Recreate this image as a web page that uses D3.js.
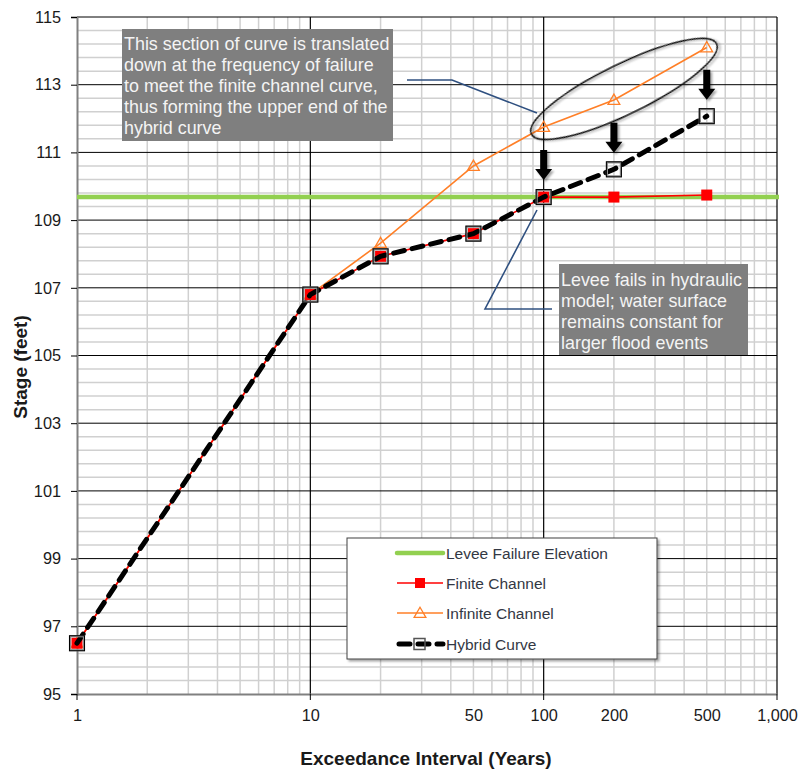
<!DOCTYPE html>
<html>
<head>
<meta charset="utf-8">
<script src="https://cdn.jsdelivr.net/npm/d3@7"></script>
<style>
  html, body { margin: 0; padding: 0; background: #fff; }
  svg { display: block; font-family: Arial, "Liberation Sans", sans-serif; }
</style>
</head>
<body>
<svg id="chart" width="801" height="774"></svg>
<script>
// Stage-frequency data (exceedance interval in years, stage in feet)
const intervals = [1, 10, 20, 50, 100, 200, 500];
const finiteChannel = [96.5, 106.8, 107.93, 108.6, 109.68, 109.68, 109.74];
const infiniteChannel = [96.5, 106.8, 108.32, 110.6, 111.75, 112.55, 114.1];
const hybridCurve = [96.5, 106.8, 107.93, 108.6, 109.68, 110.5, 112.07];
const leveeElevation = 109.68;
const xTickValues = [1, 10, 50, 100, 200, 500, 1000];
const yTickValues = [95, 97, 99, 101, 103, 105, 107, 109, 111, 113, 115];
const shiftedIntervals = [100, 200, 500];
const legendLabels = ["Levee Failure Elevation", "Finite Channel", "Infinite Channel", "Hybrid Curve"];
const noteUpper = ["This section of curve is translated", "down at the frequency of failure",
  "to meet the finite channel curve,", "thus forming the upper end of the", "hybrid curve"];
const noteLower = ["Levee fails in hydraulic", "model; water surface",
  "remains constant for", "larger flood events"];

const svg = d3.select("#chart");
const plotL = 77, plotR = 777, plotT = 17, plotB = 694;

const x = d3.scaleLog().domain([1, 1000]).range([plotL, plotR]);
const y = d3.scaleLinear().domain([95, 115]).range([plotB, plotT]);

const defs = svg.append("defs");
const shadow = defs.append("filter").attr("id", "shadow")
  .attr("x", "-20%").attr("y", "-20%").attr("width", "140%").attr("height", "140%");
shadow.append("feDropShadow").attr("dx", 2).attr("dy", 2).attr("stdDeviation", 1.2)
  .attr("flood-color", "#000").attr("flood-opacity", 0.35);

// ---- Grid ----
const grid = svg.append("g");
const minorX = [];
[1, 10, 100].forEach(d => { for (let k = 2; k <= 9; k++) minorX.push(d * k); });
const minorY = d3.range(95, 115.001, 0.4).filter(v => Math.abs((v - 95) / 2 - Math.round((v - 95) / 2)) > 0.01);

grid.selectAll(".mx").data(minorX).join("line")
  .attr("x1", d => x(d)).attr("x2", d => x(d)).attr("y1", plotT).attr("y2", plotB)
  .attr("stroke", "#d0d0d0").attr("stroke-width", 1.5);
grid.selectAll(".my").data(minorY).join("line")
  .attr("x1", plotL).attr("x2", plotR).attr("y1", d => y(d)).attr("y2", d => y(d))
  .attr("stroke", "#d0d0d0").attr("stroke-width", 1.5);
grid.append("g").selectAll("line").data([10, 100, 1000]).join("line")
  .attr("x1", d => x(d)).attr("x2", d => x(d)).attr("y1", plotT).attr("y2", plotB)
  .attr("stroke", "#000").attr("stroke-width", 1.2);
grid.append("g").selectAll("line").data(yTickValues.slice(1)).join("line")
  .attr("x1", plotL).attr("x2", plotR).attr("y1", d => y(d)).attr("y2", d => y(d))
  .attr("stroke", "#000").attr("stroke-width", 1);

// ---- Axes ----
const yAxis = d3.axisLeft(y).tickValues(yTickValues).tickSize(6).tickPadding(10);
const yG = svg.append("g").attr("transform", `translate(${plotL},0)`).call(yAxis);
yG.select(".domain").attr("stroke", "#808080").attr("stroke-width", 2);
yG.selectAll(".tick line").attr("stroke", "#000");
yG.selectAll("text").attr("font-size", 16.3).attr("fill", "#1a1a1a")
  .attr("font-family", "Arial, 'Liberation Sans', sans-serif");

const xAxis = d3.axisBottom(x).tickValues(xTickValues).tickFormat(d3.format(",")).tickSize(0).tickPadding(15);
const xG = svg.append("g").attr("transform", `translate(0,${plotB})`).call(xAxis);
xG.select(".domain").attr("stroke", "#808080").attr("stroke-width", 2);
xG.selectAll("text").attr("font-size", 16.3).attr("fill", "#1a1a1a")
  .attr("font-family", "Arial, 'Liberation Sans', sans-serif");
// tick marks only at the decades
svg.append("g").selectAll("line").data([1, 10, 100, 1000]).join("line")
  .attr("x1", d => x(d)).attr("x2", d => x(d)).attr("y1", plotB).attr("y2", plotB + 6)
  .attr("stroke", "#000");

svg.append("text").attr("x", 426).attr("y", 765).attr("text-anchor", "middle")
  .attr("font-size", 19).attr("font-weight", "bold").attr("fill", "#1a1a1a")
  .text("Exceedance Interval (Years)");
svg.append("text").attr("transform", "translate(27,367) rotate(-90)").attr("text-anchor", "middle")
  .attr("font-size", 19).attr("font-weight", "bold").attr("fill", "#1a1a1a")
  .text("Stage (feet)");

// ---- Levee failure elevation ----
svg.append("line").attr("x1", plotL).attr("x2", plotR + 2)
  .attr("y1", y(leveeElevation)).attr("y2", y(leveeElevation))
  .attr("stroke", "#92d050").attr("stroke-width", 4.5);

// ---- Series ----
const pts = vals => intervals.map((t, i) => [x(t), y(vals[i])]);
const line = d3.line();

svg.append("path").attr("d", line(pts(infiniteChannel)))
  .attr("fill", "none").attr("stroke", "#ff7f27").attr("stroke-width", 1.6);
svg.append("path").attr("d", line(pts(finiteChannel)))
  .attr("fill", "none").attr("stroke", "#ff0000").attr("stroke-width", 1.6);

const tri = d3.symbol().type(d3.symbolTriangle).size(60);
svg.append("g").selectAll("path").data(pts(infiniteChannel)).join("path")
  .attr("d", tri).attr("transform", d => `translate(${d[0]},${d[1] + 1})`)
  .attr("fill", "none").attr("stroke", "#ff7f27").attr("stroke-width", 1.3);

svg.append("g").selectAll("rect").data(pts(finiteChannel)).join("rect")
  .attr("x", d => d[0] - 5.5).attr("y", d => d[1] - 5.5).attr("width", 11).attr("height", 11)
  .attr("fill", "#ff0000");

// hybrid curve: heavy dashed black line with hollow square markers
svg.append("path").attr("d", line(pts(hybridCurve)))
  .attr("fill", "none").attr("stroke", "#000").attr("stroke-width", 5)
  .attr("stroke-dasharray", "11,8").attr("stroke-linecap", "round");
const hyb = svg.append("g").selectAll("g").data(pts(hybridCurve)).join("g")
  .attr("transform", d => `translate(${d[0]},${d[1]})`);
hyb.append("rect").attr("x", -7).attr("y", -7).attr("width", 14).attr("height", 14)
  .attr("fill", "none").attr("stroke", "#8c8c8c").attr("stroke-width", 2.2);
hyb.append("rect").attr("x", -7.5).attr("y", -7.5).attr("width", 15).attr("height", 15)
  .attr("fill", "none").attr("stroke", "#000").attr("stroke-width", 1);

// ---- Downward shift arrows ----
const arrow = "M-3.5,-15 L3.5,-15 L3.5,4 L8.5,4 L0,15 L-8.5,4 L-3.5,4 Z";
svg.append("g").selectAll("path").data(shiftedIntervals).join("path")
  .attr("d", arrow)
  .attr("transform", d => {
    const i = intervals.indexOf(d);
    const mid = (y(infiniteChannel[i]) + y(hybridCurve[i])) / 2 + 3;
    return `translate(${x(d)},${mid})`;
  })
  .attr("fill", "#000").attr("filter", "url(#shadow)");

// ---- Ellipse around translated section ----
svg.append("ellipse").attr("cx", 624).attr("cy", 89).attr("rx", 103).attr("ry", 25)
  .attr("transform", "rotate(-26,624,89)")
  .attr("fill", "none").attr("stroke", "#111").attr("stroke-width", 1.5)
  .attr("filter", "url(#shadow)");

// ---- Callouts ----
const leaderColor = "#2f5080";
svg.append("path").attr("d", "M407,80 L452,80 L537,113")
  .attr("fill", "none").attr("stroke", leaderColor).attr("stroke-width", 1.6);
svg.append("path").attr("d", "M537,210 L485,309 L552,309")
  .attr("fill", "none").attr("stroke", leaderColor).attr("stroke-width", 1.6);

function callout(x0, y0, w, h, lines, lineH, firstY) {
  const g = svg.append("g");
  g.append("rect").attr("x", x0).attr("y", y0).attr("width", w).attr("height", h).attr("fill", "#7f7f7f");
  g.selectAll("text").data(lines).join("text")
    .attr("x", x0 + 2).attr("y", (d, i) => firstY + i * lineH)
    .attr("font-size", 17.9).attr("fill", "#f4f4f4").text(d => d);
}
callout(122, 29, 271, 112, noteUpper, 21, 49.5);
callout(559, 264, 189, 91, noteLower, 21.2, 285.5);

// ---- Legend ----
const lg = svg.append("g");
lg.append("rect").attr("x", 347).attr("y", 538).attr("width", 310).attr("height", 121)
  .attr("fill", "#fff").attr("stroke", "#404040").attr("stroke-width", 1).attr("filter", "url(#shadow)");
const ly = [553, 583, 613, 644];
const sx0 = 397, sx1 = 443;
lg.append("line").attr("x1", sx0).attr("x2", sx1).attr("y1", ly[0]).attr("y2", ly[0])
  .attr("stroke", "#92d050").attr("stroke-width", 4.5).attr("stroke-linecap", "round");
lg.append("line").attr("x1", sx0).attr("x2", sx1).attr("y1", ly[1]).attr("y2", ly[1])
  .attr("stroke", "#ff0000").attr("stroke-width", 1.6);
lg.append("rect").attr("x", 415).attr("y", ly[1] - 5).attr("width", 10).attr("height", 10).attr("fill", "#ff0000");
lg.append("line").attr("x1", sx0).attr("x2", sx1).attr("y1", ly[2]).attr("y2", ly[2])
  .attr("stroke", "#ff7f27").attr("stroke-width", 1.6);
lg.append("path").attr("d", tri).attr("transform", `translate(420,${ly[2] + 1})`)
  .attr("fill", "none").attr("stroke", "#ff7f27").attr("stroke-width", 1.3);
lg.append("line").attr("x1", sx0 + 2).attr("x2", sx1).attr("y1", ly[3]).attr("y2", ly[3])
  .attr("stroke", "#000").attr("stroke-width", 5).attr("stroke-linecap", "round")
  .attr("stroke-dasharray", "11,8");
lg.append("rect").attr("x", 414).attr("y", ly[3] - 5.5).attr("width", 11).attr("height", 11)
  .attr("fill", "none").attr("stroke", "#555").attr("stroke-width", 1.5);
lg.selectAll("text").data(legendLabels).join("text")
  .attr("x", 446).attr("y", (d, i) => ly[i] + 5.5)
  .attr("font-size", 15.5).attr("fill", "#333844").text(d => d);
</script>
</body>
</html>
